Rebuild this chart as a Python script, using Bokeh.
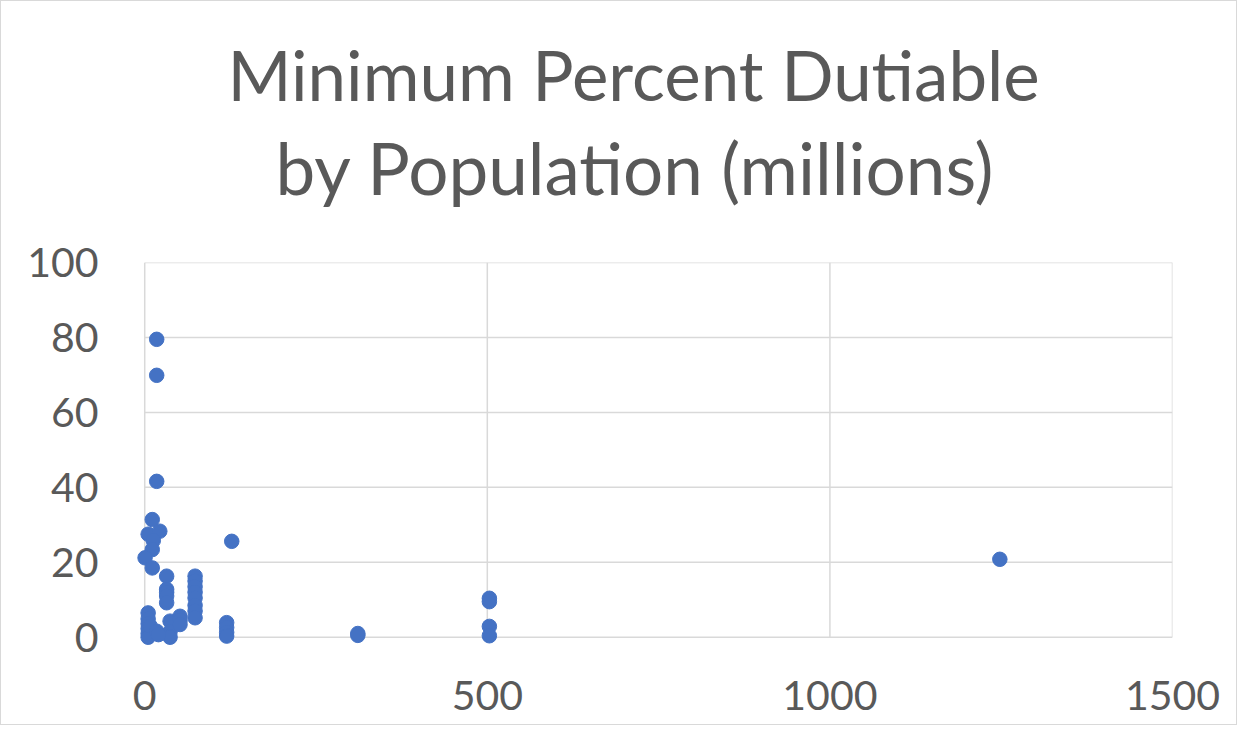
from bokeh.plotting import figure
from bokeh.models import Range1d, FixedTicker, Title, ColumnDataSource
from bokeh.embed import file_html
from bokeh.resources import INLINE

# Population (millions) and minimum percent dutiable
population = [17.5, 17.5, 17.5, 11, 5, 22, 12.5, 11, 0.5, 11,
              127,
              32, 32, 32, 32, 32,
              73.5, 73.5, 73.5, 73.5, 73.5, 73.5, 73.5, 73.5,
              5, 5, 5, 5, 5, 5,
              8, 17.5,
              37, 37, 37,
              51.5, 51.5, 51.5,
              20,
              119.6, 119.6, 119.6, 119.6,
              311, 311,
              503, 503, 503, 503,
              1248]
min_pct = [79.5, 69.9, 41.6, 31.4, 27.5, 28.3, 25.8, 23.4, 21.2, 18.5,
           25.6,
           16.3, 12.8, 12.0, 11.0, 9.2,
           16.3, 15.0, 13.5, 12.0, 10.5, 8.5, 7.0, 5.2,
           6.5, 4.9, 3.6, 2.3, 1.0, 0.0,
           3.0, 1.6,
           4.3, 1.5, 0.0,
           5.6, 4.5, 3.4,
           0.7,
           3.9, 2.6, 1.3, 0.3,
           0.5, 1.0,
           10.4, 9.5, 2.9, 0.4,
           20.8]

x_ticks = [0, 500, 1000, 1500]
y_ticks = [0, 20, 40, 60, 80, 100]
title_lines = ["Minimum Percent Dutiable", "by Population (millions)"]

TEXT = "#595959"
GRID = "#d9d9d9"
FONT = "Lato"

p = figure(width=1237, height=725, output_backend="svg", toolbar_location=None,
           x_range=Range1d(-12, 1500), y_range=Range1d(-2.2, 100),
           min_border_left=135, min_border_right=66, min_border_top=261, min_border_bottom=81,
           title=None)
p.outline_line_color = None
p.xgrid.visible = False
p.ygrid.visible = False

# gridlines limited to the 0..max data box
p.segment(x0=[x_ticks[0]] * len(y_ticks), x1=[x_ticks[-1]] * len(y_ticks), y0=y_ticks, y1=y_ticks,
          line_color=GRID, line_width=1.5)
p.segment(x0=x_ticks, x1=x_ticks, y0=[y_ticks[0]] * len(x_ticks), y1=[y_ticks[-1]] * len(x_ticks),
          line_color=GRID, line_width=1.5)

src = ColumnDataSource(dict(x=population, y=min_pct))
p.scatter("x", "y", source=src, size=14.5, fill_color="#4472C4", line_color="#4472C4")

for ax, ticks in ((p.xaxis[0], x_ticks), (p.yaxis[0], y_ticks)):
    ax.ticker = FixedTicker(ticks=ticks)
    ax.axis_line_color = None
    ax.major_tick_line_color = None
    ax.minor_tick_line_color = None
    ax.major_tick_out = 0
    ax.major_tick_in = 0
    ax.major_label_text_font = FONT
    ax.major_label_text_font_size = "41px"
    ax.major_label_text_color = TEXT
p.xaxis.major_label_standoff = 35
p.yaxis.major_label_standoff = 38

# two-line title: inner line added first (closest to the plot area)
p.add_layout(Title(text=title_lines[1], align="left", offset=139, text_font=FONT,
                   text_font_size="71px", text_font_style="normal", text_color=TEXT,
                   standoff=106), "above")
p.add_layout(Title(text=title_lines[0], align="left", offset=91, text_font=FONT,
                   text_font_size="69px", text_font_style="normal", text_color=TEXT,
                   standoff=-93), "above")

p.styles = {"border": "1px solid #d9d9d9"}

open("out.html", "w").write(file_html(p, INLINE))
